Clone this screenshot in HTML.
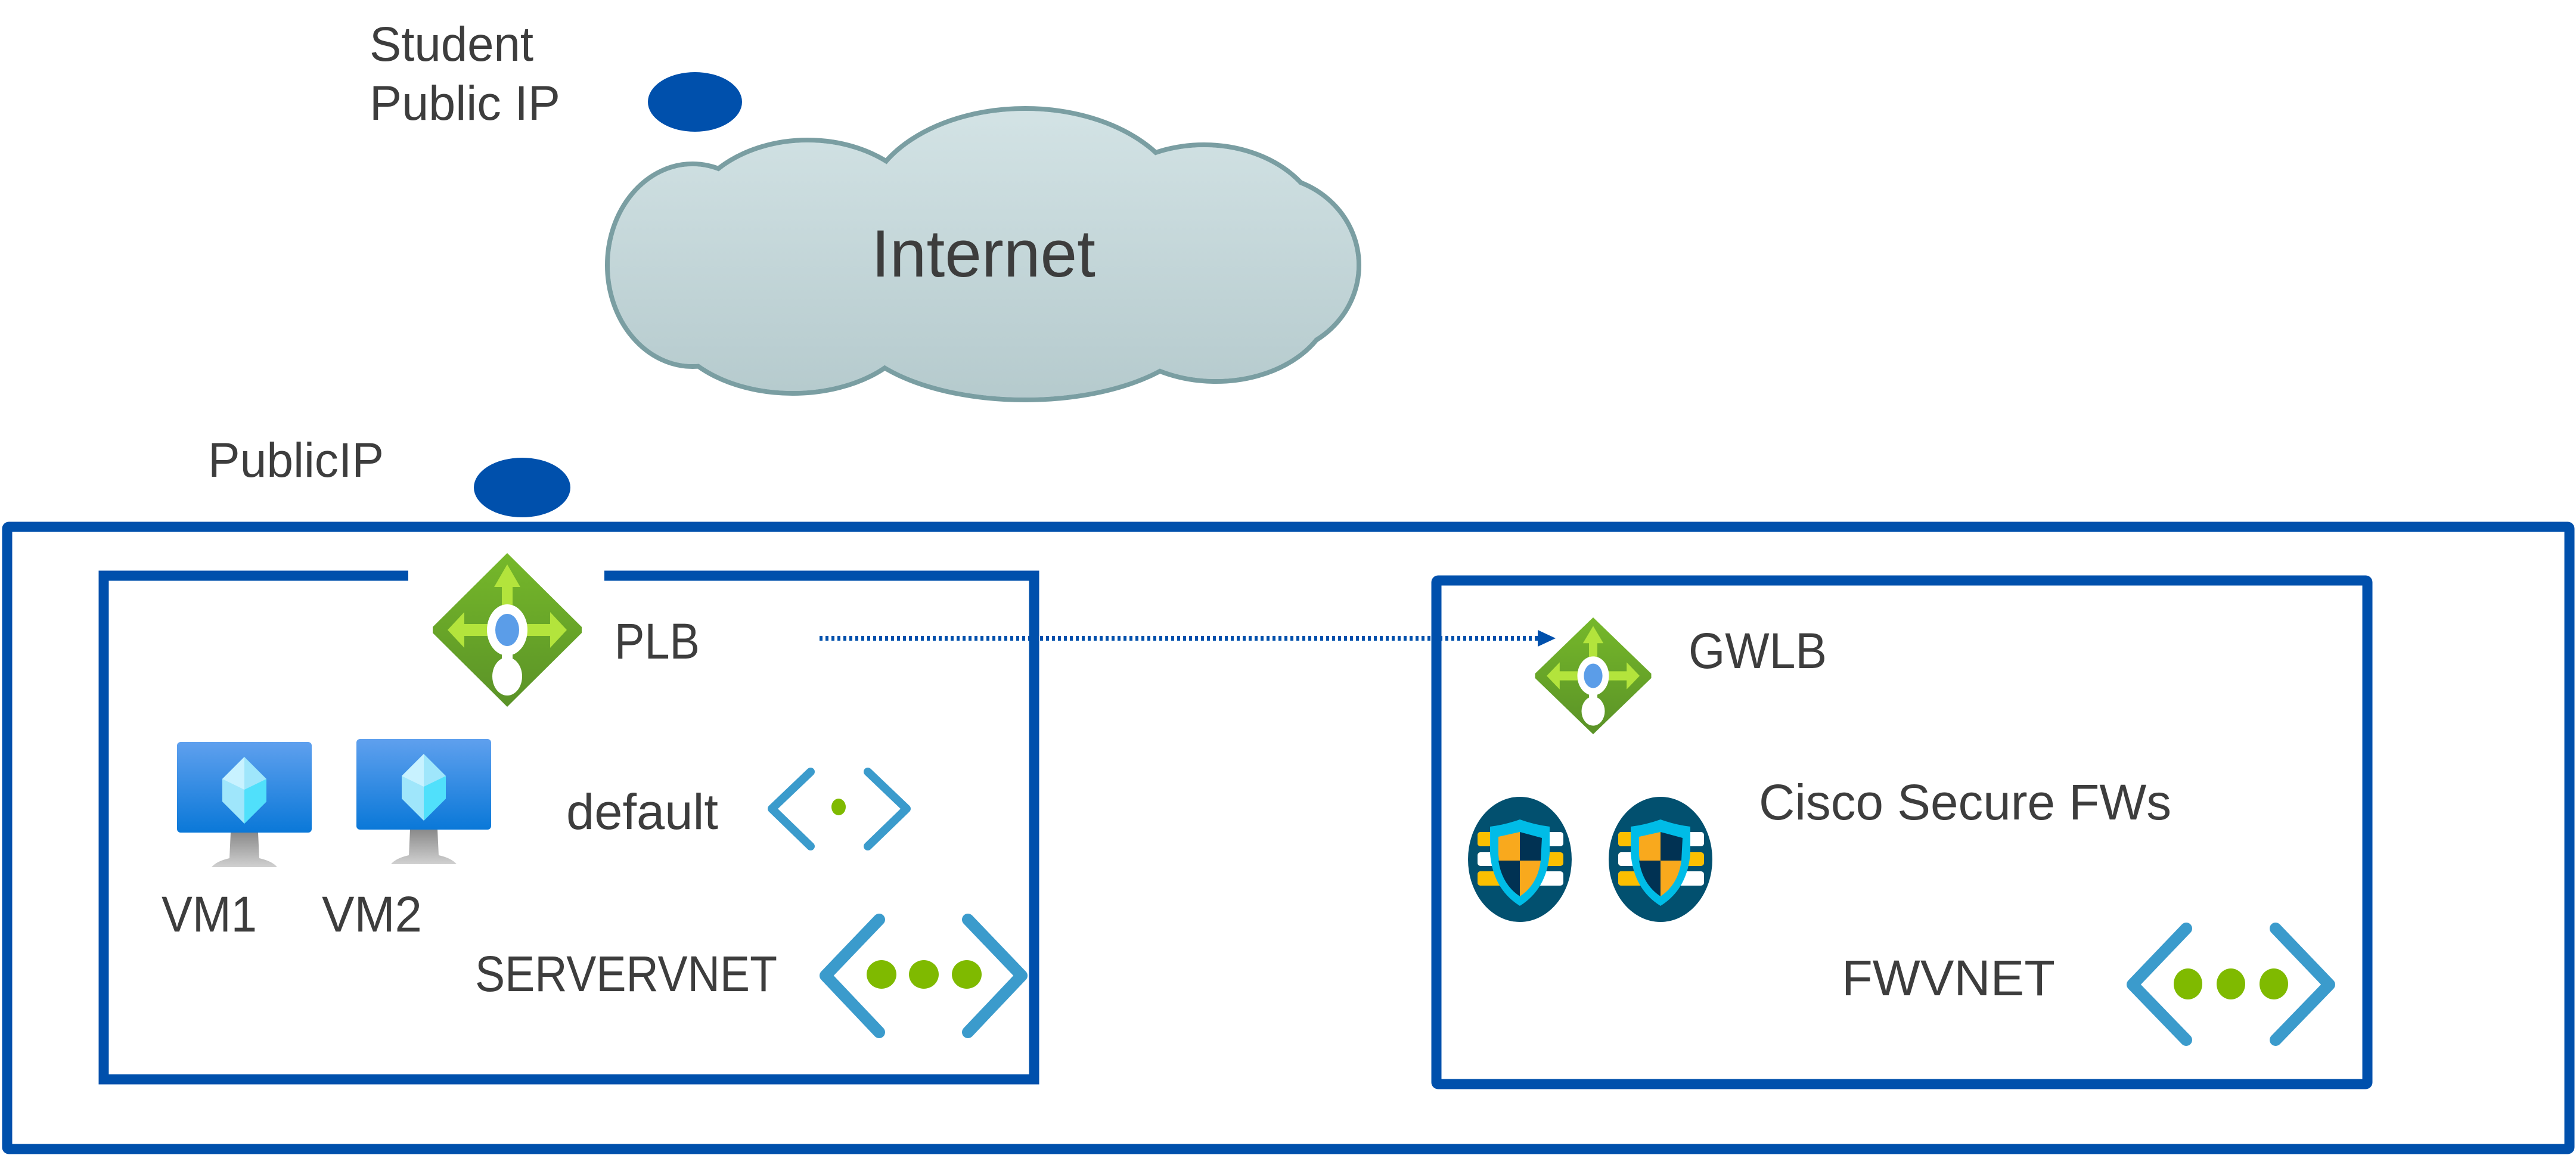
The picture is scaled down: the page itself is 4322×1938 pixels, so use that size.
<!DOCTYPE html>
<html><head><meta charset="utf-8"><style>
html,body{margin:0;padding:0;background:#fff;}
svg{display:block;}
text{font-family:"Liberation Sans",sans-serif;fill:#3d3d3d;}
</style></head><body>
<svg width="4322" height="1938" viewBox="0 0 4322 1938" xmlns="http://www.w3.org/2000/svg">
<defs>
<linearGradient id="cg" gradientUnits="userSpaceOnUse" x1="0" y1="180" x2="0" y2="673"><stop offset="0" stop-color="#d3e3e5"/><stop offset="1" stop-color="#b5cacd"/></linearGradient>
<linearGradient id="lbg" x1="0" y1="0" x2="0" y2="1"><stop offset="0" stop-color="#76b82a"/><stop offset="1" stop-color="#5a9227"/></linearGradient>
<linearGradient id="vmg" x1="0" y1="0" x2="0" y2="1"><stop offset="0" stop-color="#5fa0ee"/><stop offset="1" stop-color="#0a78d8"/></linearGradient>
<linearGradient id="stg" x1="0" y1="0" x2="0" y2="1"><stop offset="0" stop-color="#8a8a8a"/><stop offset="1" stop-color="#d0d0d0"/></linearGradient>
<g id="lb">
 <polygon points="0,-129 125,-5 125,5 0,129 -125,5 -125,-5" fill="url(#lbg)"/>
 <polygon points="0,-110 -22,-72 -9,-72 -9,-25 9,-25 9,-72 22,-72" fill="#b3e43c"/>
 <polygon points="-100,0 -72,-30 -72,-10 -25,-10 -25,10 -72,10 -72,30" fill="#b3e43c"/>
 <polygon points="100,0 72,-30 72,-10 25,-10 25,10 72,10 72,30" fill="#b3e43c"/>
 <rect x="-9" y="20" width="18" height="45" fill="#fff"/>
 <ellipse cx="0" cy="0" rx="34" ry="43" fill="#fff"/>
 <ellipse cx="0" cy="0" rx="20" ry="27" fill="#5b9de8"/>
 <ellipse cx="0" cy="78" rx="25" ry="32" fill="#fff"/>
</g>
<g id="vm">
 <rect x="0" y="0" width="226" height="152" rx="6" fill="url(#vmg)"/>
 <polygon points="113,25 150,62 150,100 113,137 76,100 76,62" fill="#9fe6fb"/>
 <polygon points="113,80 150,62 150,100 113,137" fill="#50e0fb"/>
 <polygon points="113,25 76,62 113,80" fill="#c8f2ff"/>
 <path d="M90,152 L136,152 L138,195 Q160,200 168,210 L58,210 Q66,200 88,195 Z" fill="url(#stg)"/>
</g>
<g id="fw">
 <ellipse cx="0" cy="0" rx="87" ry="105" fill="#02506f"/>
 <rect x="-71" y="-46" width="144" height="24" rx="5" fill="#fff"/>
 <rect x="-71" y="-46" width="50" height="24" rx="5" fill="#fbbf00"/>
 <rect x="-71" y="-12" width="144" height="23" rx="5" fill="#fbbf00"/>
 <rect x="-71" y="-12" width="50" height="23" rx="5" fill="#fff"/>
 <rect x="-71" y="20" width="144" height="24" rx="5" fill="#fff"/>
 <rect x="-71" y="20" width="50" height="24" rx="5" fill="#fbbf00"/>
 <path d="M-50,-55 L-50,-10 Q-45,50 0,78 Q45,50 50,-10 L50,-55 Q25,-58 0,-67 Q-25,-58 -50,-55 Z" fill="#00bce7"/>
 <path d="M-36,-38 L0,-46 L0,62 Q-32,40 -36,-8 Z" fill="#f9a91d"/>
 <path d="M0,-46 L37,-36 L35,2 L0,2 Z" fill="#013253"/>
 <path d="M-36,2 L0,2 L0,62 Q-30,42 -36,2 Z" fill="#013253"/>
 <path d="M0,2 L35,2 Q30,42 0,62 Z" fill="#f9a91d"/>
</g>
</defs>

<text x="620" y="102" font-size="82" textLength="275" lengthAdjust="spacingAndGlyphs">Student</text>
<text x="620" y="201" font-size="82" textLength="320" lengthAdjust="spacingAndGlyphs">Public IP</text>
<ellipse cx="1166" cy="171" rx="79" ry="50" fill="#0050ac"/>

<g stroke="#7a9ea2" stroke-width="8" fill="#c3d5d8">
 <ellipse cx="1720" cy="360" rx="270" ry="178"/>
 <ellipse cx="1355" cy="395" rx="210" ry="160"/>
 <ellipse cx="2020" cy="395" rx="200" ry="152"/>
 <ellipse cx="1162" cy="445" rx="143" ry="170"/>
 <ellipse cx="2122" cy="445" rx="158" ry="150"/>
 <ellipse cx="1330" cy="520" rx="215" ry="140"/>
 <ellipse cx="1720" cy="530" rx="300" ry="141"/>
 <ellipse cx="2040" cy="500" rx="195" ry="140"/>
</g>
<g fill="url(#cg)">
 <ellipse cx="1720" cy="360" rx="266" ry="174"/>
 <ellipse cx="1355" cy="395" rx="206" ry="156"/>
 <ellipse cx="2020" cy="395" rx="196" ry="148"/>
 <ellipse cx="1162" cy="445" rx="139" ry="166"/>
 <ellipse cx="2122" cy="445" rx="154" ry="146"/>
 <ellipse cx="1330" cy="520" rx="211" ry="136"/>
 <ellipse cx="1720" cy="530" rx="296" ry="137"/>
 <ellipse cx="2040" cy="500" rx="191" ry="136"/>
</g>
<text x="1462" y="464" font-size="112" textLength="376" lengthAdjust="spacingAndGlyphs">Internet</text>

<text x="349" y="800" font-size="82" textLength="295" lengthAdjust="spacingAndGlyphs">PublicIP</text>
<ellipse cx="876" cy="818" rx="81" ry="50" fill="#0050ac"/>

<rect x="12" y="884" width="4299" height="1044" fill="none" stroke="#0050ac" stroke-width="17" rx="3"/>

<path d="M685,966 L174,966 L174,1811 L1735,1811 L1735,966 L1014,966" fill="none" stroke="#0050ac" stroke-width="17"/>
<use href="#lb" x="851" y="1057"/>
<text x="1031" y="1105" font-size="84" textLength="143" lengthAdjust="spacingAndGlyphs">PLB</text>

<use href="#vm" x="297" y="1245"/>
<use href="#vm" x="598" y="1240"/>
<text x="271" y="1563" font-size="84" textLength="160" lengthAdjust="spacingAndGlyphs">VM1</text>
<text x="540" y="1563" font-size="84" textLength="168" lengthAdjust="spacingAndGlyphs">VM2</text>

<text x="950" y="1391" font-size="84" textLength="255" lengthAdjust="spacingAndGlyphs">default</text>
<g fill="none" stroke="#3b9bcc" stroke-width="14" stroke-linecap="round" stroke-linejoin="round">
 <polyline points="1360,1295 1295,1357 1360,1420"/>
 <polyline points="1456,1295 1521,1357 1456,1420"/>
</g>
<ellipse cx="1407" cy="1354" rx="12" ry="14" fill="#7fba00"/>

<text x="797" y="1663" font-size="84" textLength="507" lengthAdjust="spacingAndGlyphs">SERVERVNET</text>
<g fill="none" stroke="#3b9bcc" stroke-width="20" stroke-linecap="round" stroke-linejoin="round">
 <polyline points="1475,1543 1385,1637 1475,1732"/>
 <polyline points="1624,1543 1714,1637 1624,1732"/>
</g>
<ellipse cx="1479" cy="1635" rx="25" ry="24" fill="#7fba00"/>
<ellipse cx="1550" cy="1635" rx="25" ry="24" fill="#7fba00"/>
<ellipse cx="1622" cy="1635" rx="25" ry="24" fill="#7fba00"/>

<line x1="1375" y1="1071" x2="2585" y2="1071" stroke="#0050ac" stroke-width="8" stroke-dasharray="5,5"/>
<polygon points="2580,1057 2610,1071 2580,1085" fill="#0050ac"/>

<rect x="2410" y="974" width="1562" height="845" fill="none" stroke="#0050ac" stroke-width="17" rx="3"/>
<g transform="translate(2673,1134) scale(0.78,0.76)"><use href="#lb"/></g>
<text x="2833" y="1121" font-size="84" textLength="232" lengthAdjust="spacingAndGlyphs">GWLB</text>

<use href="#fw" x="2550" y="1442"/>
<use href="#fw" x="2786" y="1442"/>
<text x="2951" y="1375" font-size="84" textLength="692" lengthAdjust="spacingAndGlyphs">Cisco Secure FWs</text>

<text x="3090" y="1670" font-size="84" textLength="358" lengthAdjust="spacingAndGlyphs">FWVNET</text>
<g fill="none" stroke="#3b9bcc" stroke-width="20" stroke-linecap="round" stroke-linejoin="round">
 <polyline points="3668,1558 3578,1652 3668,1745"/>
 <polyline points="3818,1558 3908,1652 3818,1745"/>
</g>
<ellipse cx="3671" cy="1651" rx="24" ry="26" fill="#7fba00"/>
<ellipse cx="3743" cy="1651" rx="24" ry="26" fill="#7fba00"/>
<ellipse cx="3815" cy="1651" rx="24" ry="26" fill="#7fba00"/>
</svg>
</body></html>
